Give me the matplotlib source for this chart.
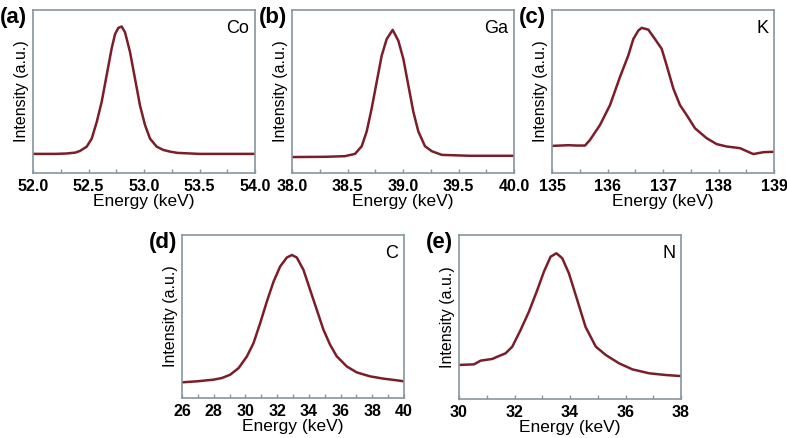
import numpy as np
import matplotlib
matplotlib.use("Agg")
import matplotlib.pyplot as plt

plt.rcParams['font.family'] = ['Liberation Sans', 'DejaVu Sans']

# (a) Co
co_x = [52.0, 52.2, 52.3, 52.38, 52.423, 52.484, 52.529, 52.574, 52.619, 52.664, 52.709,
        52.739, 52.769, 52.799, 52.829, 52.874, 52.919, 52.964, 53.009, 53.054, 53.114,
        53.174, 53.234, 53.3, 53.5, 54.0]
co_y = [0, 0, 0.003, 0.01, 0.023, 0.057, 0.12, 0.25, 0.41, 0.62, 0.83,
        0.94, 0.99, 1.0, 0.955, 0.80, 0.59, 0.38, 0.227, 0.12, 0.057,
        0.031, 0.018, 0.008, 0, 0]
# (b) Ga
ga_x = [38.0, 38.3, 38.477, 38.568, 38.628, 38.673, 38.718, 38.763, 38.808, 38.853, 38.907,
        38.958, 39.003, 39.048, 39.093, 39.138, 39.198, 39.259, 39.35, 39.6, 40.0]
ga_y = [-0.005, -0.003, 0.002, 0.02, 0.08, 0.196, 0.377, 0.584, 0.79, 0.92, 0.992,
        0.907, 0.765, 0.558, 0.351, 0.196, 0.08, 0.041, 0.012, 0.005, 0.005]
# (c) K
k_x = [135.0, 135.144, 135.3, 135.45, 135.595, 135.685, 135.865, 136.045, 136.225, 136.375,
       136.465, 136.555, 136.616, 136.735, 136.856, 136.976, 137.066, 137.186, 137.306,
       137.426, 137.577, 137.787, 137.968, 138.148, 138.387, 138.627, 138.808, 138.988, 139.0]
k_y = [-0.003, 0, 0.003, 0, 0, 0.048, 0.174, 0.342, 0.58, 0.762,
       0.9, 0.972, 0.995, 0.98, 0.9, 0.818, 0.678, 0.482, 0.342,
       0.258, 0.146, 0.062, 0.012, -0.008, -0.022, -0.072, -0.056, -0.053, -0.053]
# (d) C
c_x = [26, 26.94, 27.99, 28.52, 29.04, 29.57, 30.09, 30.51, 30.93, 31.35, 31.77, 32.19,
       32.61, 32.93, 33.24, 33.66, 34.08, 34.5, 34.92, 35.34, 35.76, 36.39, 37.02, 37.86,
       38.7, 39.54, 40]
c_y = [0, 0.008, 0.021, 0.034, 0.06, 0.112, 0.203, 0.308, 0.465, 0.634, 0.79, 0.91,
       0.98, 1.0, 0.98, 0.883, 0.726, 0.57, 0.413, 0.295, 0.204, 0.125, 0.078, 0.047,
       0.029, 0.016, 0.008]
# (e) N
n_x = [30, 30.54, 30.78, 31.2, 31.38, 31.68, 31.92, 32.22, 32.52, 32.82, 33.06, 33.3,
       33.51, 33.72, 33.96, 34.26, 34.56, 34.93, 35.29, 35.77, 36.25, 36.85, 37.45, 37.95, 38]
n_y = [0.09, 0.095, 0.125, 0.139, 0.157, 0.185, 0.239, 0.375, 0.524, 0.70, 0.85, 0.972,
       1.0, 0.96, 0.837, 0.62, 0.40, 0.239, 0.171, 0.103, 0.054, 0.022, 0.008, 0, 0]

W, H = 787, 438
fig = plt.figure(figsize=(W / 100, H / 100), dpi=100)

line_color = '#7b1e2a'
frame_color = '#8796a0'

panels = [
    # x, y, label, elem, box(px: left, top, right, bottom), xlim, ylim, major ticks, fmt, minor step
    (co_x, co_y, '(a)', 'Co', (33, 10, 255, 173), (52, 54), (-0.15, 1.13),
     [52.0, 52.5, 53.0, 53.5, 54.0], '{:.1f}', 0.25),
    (ga_x, ga_y, '(b)', 'Ga', (292, 10, 514, 173), (38, 40), (-0.13, 1.148),
     [38.0, 38.5, 39.0, 39.5, 40.0], '{:.1f}', 0.25),
    (k_x, k_y, '(c)', 'K', (552, 10, 774, 173), (135, 139), (-0.232, 1.146),
     [135, 136, 137, 138, 139], '{:.0f}', 0.5),
    (c_x, c_y, '(d)', 'C', (182, 235, 404, 398), (26, 40), (-0.123, 1.157),
     [26, 28, 30, 32, 34, 36, 38, 40], '{:.0f}', 1),
    (n_x, n_y, '(e)', 'N', (459, 235, 681, 399), (30, 38), (-0.1875, 1.149),
     [30, 32, 34, 36, 38], '{:.0f}', 1),
]

for x, y, lab, elem, box, xlim, ylim, ticks, fmt, mstep in panels:
    l, t, r, b = box
    ax = fig.add_axes([l / W, 1 - b / H, (r - l) / W, (b - t) / H])
    ax.plot(x, y, color=line_color, lw=1.8)
    ax.set_xlim(*xlim)
    ax.set_ylim(*ylim)
    ax.set_xticks(ticks)
    ax.set_xticklabels([fmt.format(v) for v in ticks], fontsize=11.5, fontweight='bold')
    ax.set_xticks(np.arange(xlim[0], xlim[1] + 1e-9, mstep), minor=True)
    ax.set_yticks([])
    ax.tick_params(axis='x', which='both', direction='in', length=3, width=1,
                   color=frame_color, pad=4, top=False)
    for s in ax.spines.values():
        s.set_color(frame_color)
        s.set_linewidth(1.2)
    ax.set_xlabel('Energy (keV)', fontsize=12.5, labelpad=0)
    ax.set_ylabel('Intensity (a.u.)', fontsize=11.5, labelpad=3)
    ax.text(0.975, 0.94, elem, transform=ax.transAxes, ha='right', va='top', fontsize=13)
    fig.text((l - 33) / W, 1 - (t - 3) / H, lab, ha='left', va='top', fontsize=16,
             fontweight='bold')

fig.savefig('out.png', dpi=100)
